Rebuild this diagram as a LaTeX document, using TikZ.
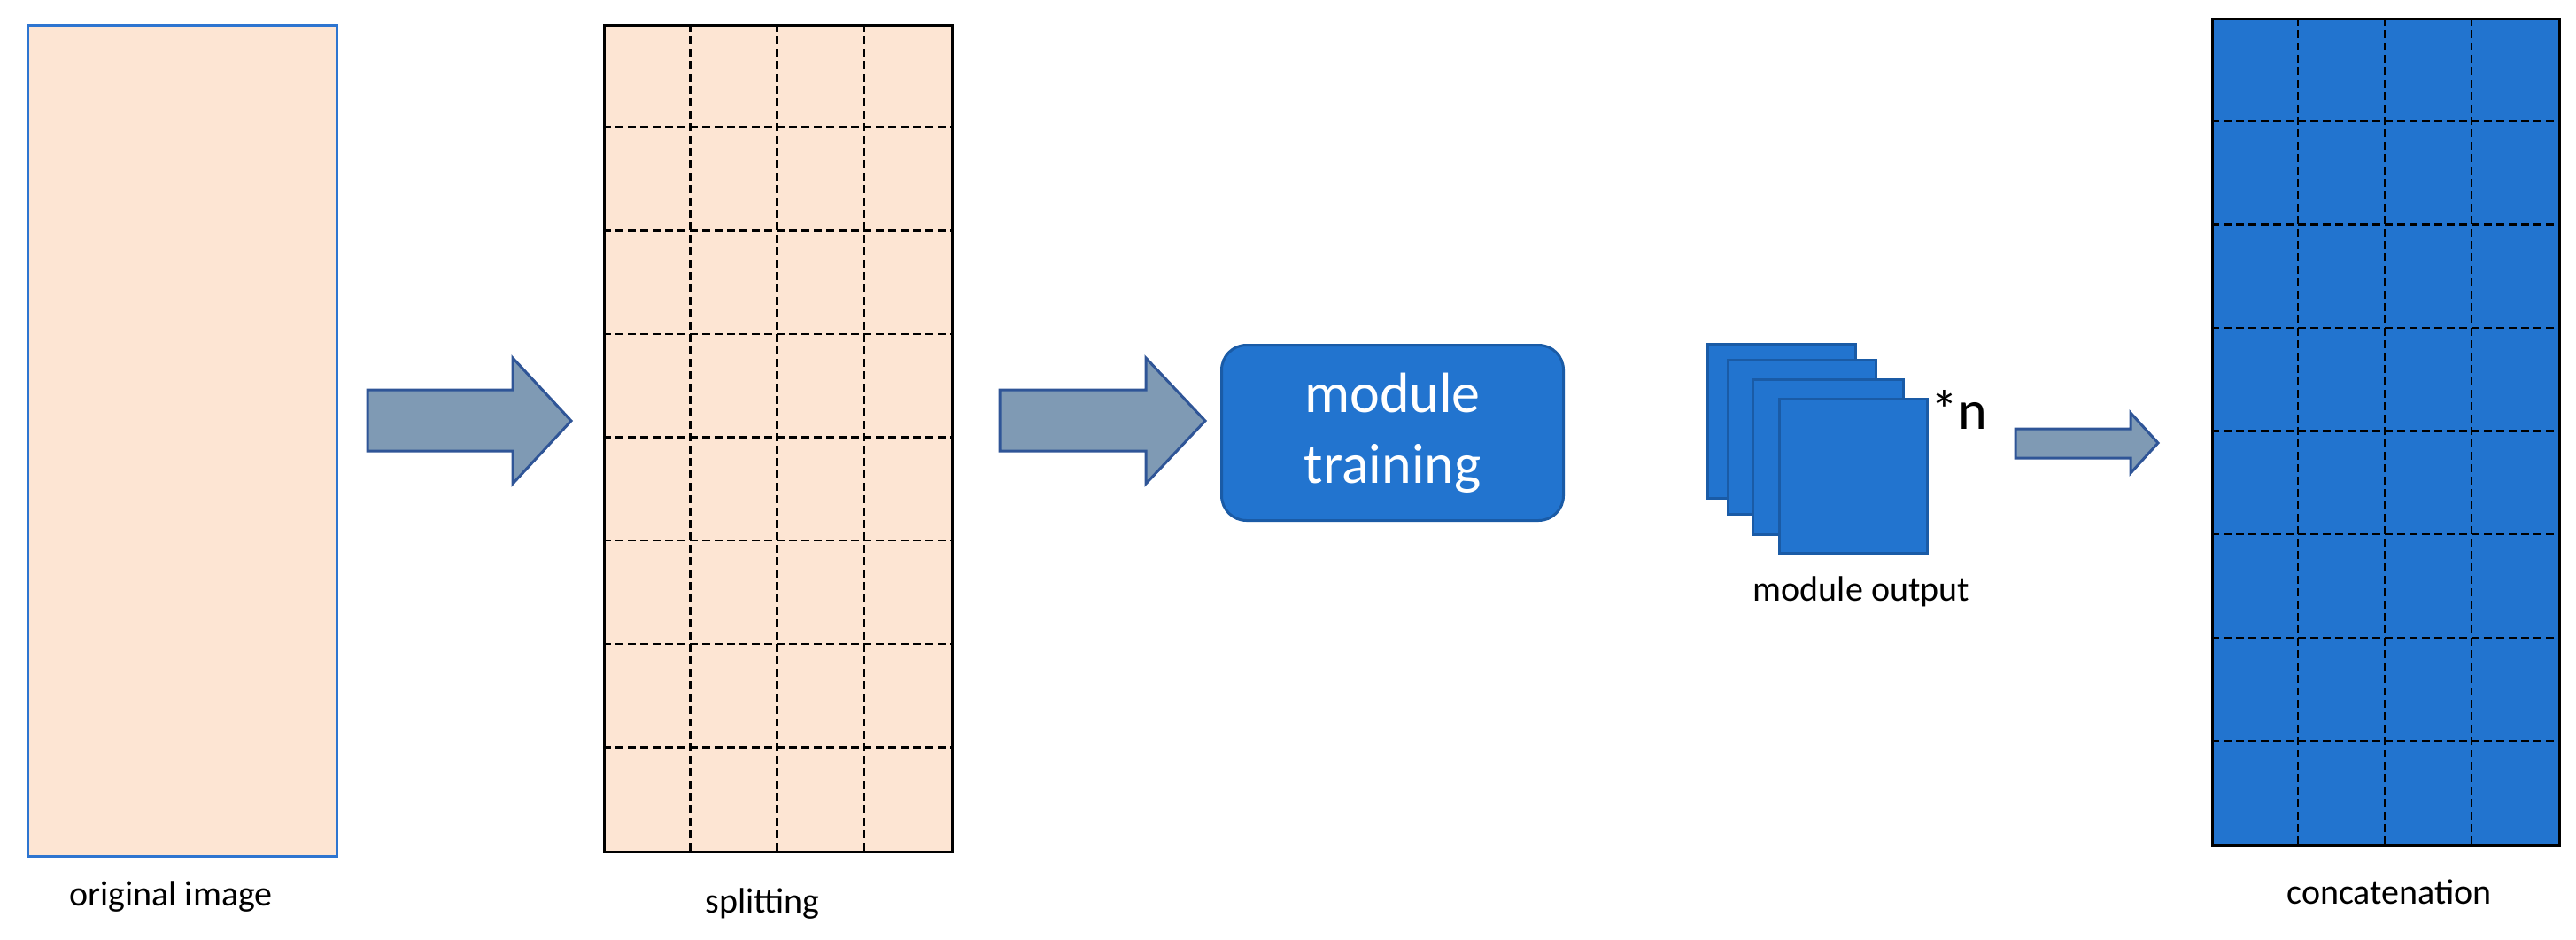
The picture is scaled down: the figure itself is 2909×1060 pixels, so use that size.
\documentclass[tikz,border=0pt]{standalone}
\usepackage{fontspec}
\setmainfont{Carlito}
\definecolor{peach}{HTML}{FDE5D3}
\definecolor{obl}{HTML}{2E75D0}
\definecolor{bfill}{HTML}{2274CF}
\definecolor{bline}{HTML}{1A5BA6}
\definecolor{afill}{HTML}{7F9AB4}
\definecolor{aline}{HTML}{2F5597}
\begin{document}
\begin{tikzpicture}[x=1pt,y=-1pt,
  lbl/.style={font=\fontsize{40}{48}\selectfont,text=black},
  barrow/.style={fill=afill,draw=aline,line width=3pt,line join=miter},
  sq/.style={fill=bfill,draw=bline,line width=3pt},
  gridline/.style={line width=2.5pt,dash pattern=on 9pt off 5pt}]
\useasboundingbox (0,0) rectangle (2909,1060);
% original image
\node[draw=obl,fill=peach,line width=3pt,minimum width=349pt,minimum height=938pt,inner sep=0,anchor=north west] (orig) at (30,27) {};
\node[lbl] (origl) at (193,1012) {original image};
% arrow 1
\draw[barrow] (415,440) -- (579,440) -- (579,404) -- (645,475) -- (579,546) -- (579,509) -- (415,509) -- cycle;
% splitting grid
\fill[peach] (681,27) rectangle (1074,960);
\foreach \i in {1,2,3} \draw[gridline] ({681+\i*393/4},27) -- ({681+\i*393/4},960);
\foreach \j in {1,...,7} \draw[gridline] (681,{27+\j*933/8}) -- (1074,{27+\j*933/8});
\node[draw=black,line width=3pt,minimum width=393pt,minimum height=933pt,inner sep=0,anchor=north west] (split) at (681,27) {};
\node[lbl] (splitl) at (861,1020) {splitting};
% arrow 2
\draw[barrow] (1129,440) -- (1294,440) -- (1294,404) -- (1361,475) -- (1294,546) -- (1294,509) -- (1129,509) -- cycle;
% module training
\node[fill=bfill,draw=bline,line width=3pt,rounded corners=28pt,minimum width=386pt,minimum height=198pt,anchor=north west,inner sep=0] (mod) at (1378,388) {};
\node[text=white,font=\fontsize{64}{80}\selectfont,align=center] (modt) at (mod.center) {module\\training};
% module output stack
\draw[sq] (1928,388) rectangle (2095,562);
\draw[sq] (1951,406) rectangle (2118,580);
\draw[sq] (1979,428) rectangle (2149,603);
\node[sq,minimum width=167pt,minimum height=174pt,inner sep=0,anchor=north west] (out) at (2008,449) {};
\node[font=\fontsize{62}{70}\selectfont,anchor=west,inner sep=0] (star) at (2180,462) {*n};
\node[lbl] (outl) at (2102,668) {module output};
% arrow 3
\draw[barrow] (2276,484) -- (2406,484) -- (2406,466) -- (2437,500) -- (2406,534) -- (2406,517) -- (2276,517) -- cycle;
% concatenation grid
\fill[bfill] (2497,20) rectangle (2889,953);
\foreach \i in {1,2,3} \draw[gridline] ({2497+\i*392/4},20) -- ({2497+\i*392/4},953);
\foreach \j in {1,...,7} \draw[gridline] (2497,{20+\j*933/8}) -- (2889,{20+\j*933/8});
\node[draw=black,line width=3pt,minimum width=392pt,minimum height=933pt,inner sep=0,anchor=north west] (cat) at (2497,20) {};
\node[lbl] (catl) at (2698,1007) {concatenation};
\end{tikzpicture}
\end{document}
